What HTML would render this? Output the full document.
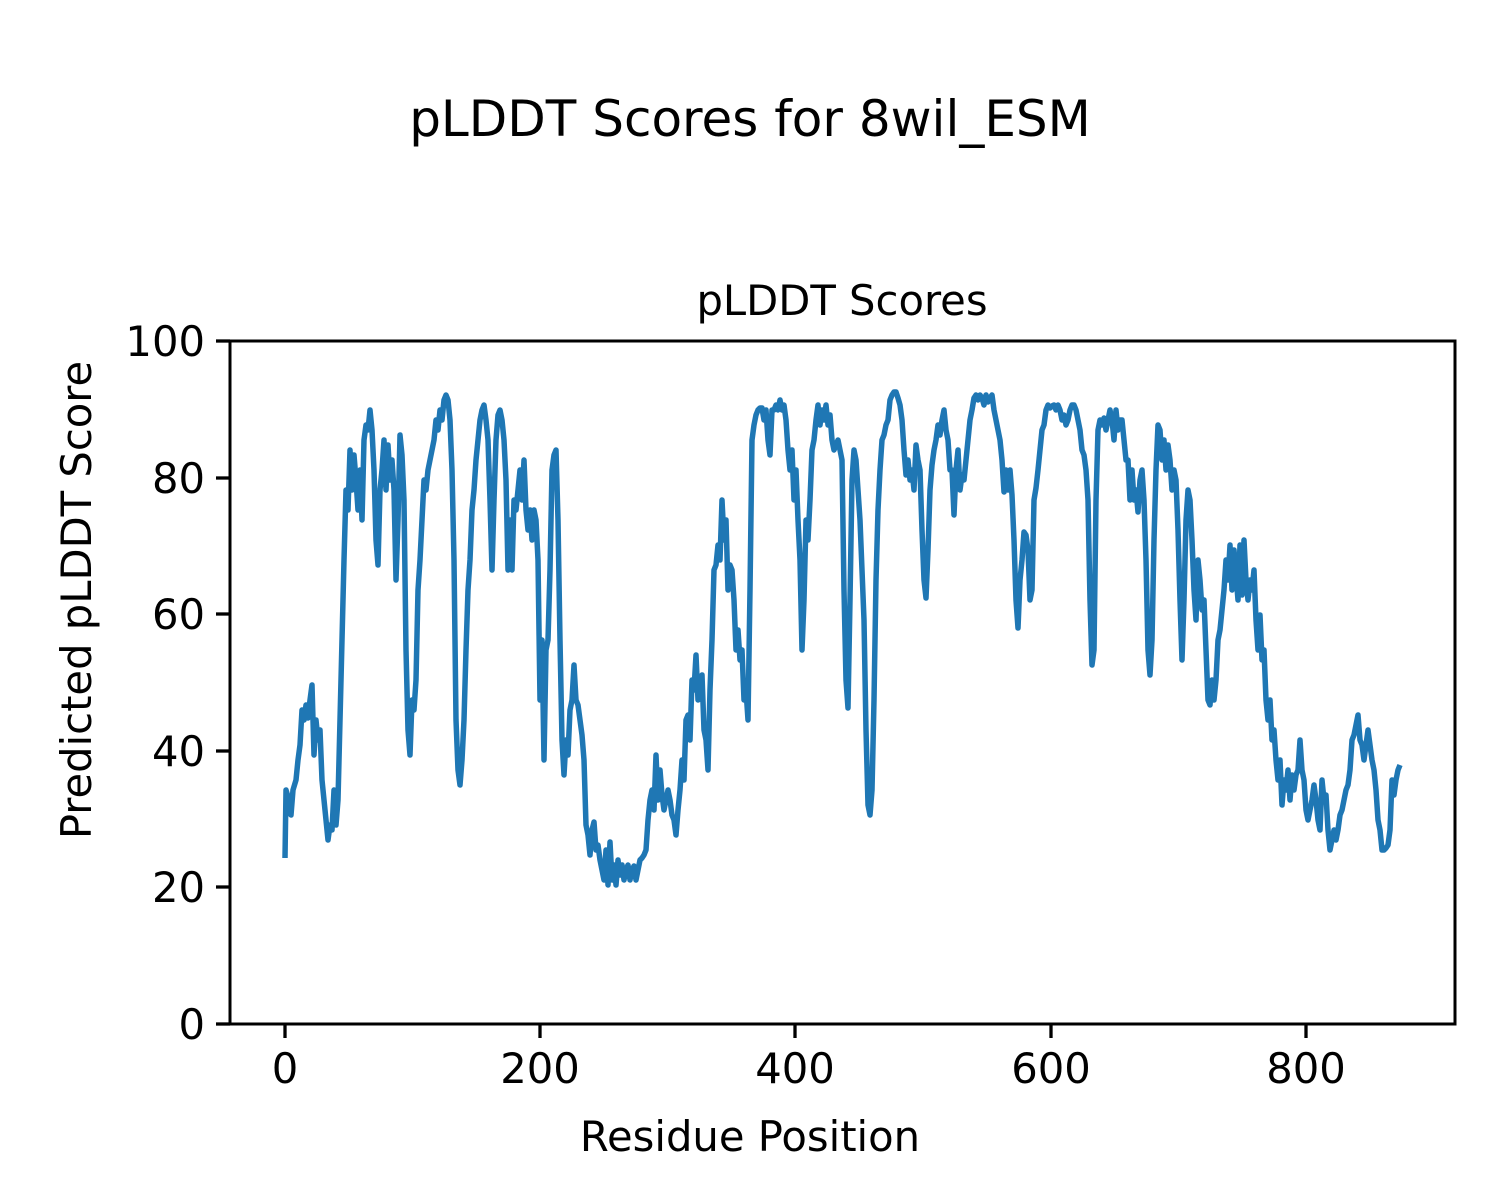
<!DOCTYPE html>
<html><head><style>body{margin:0;background:#fff}svg{display:block}</style></head><body>
<svg width="1500" height="1200" xmlns="http://www.w3.org/2000/svg" font-family="DejaVu Sans, Liberation Sans, sans-serif">
<rect width="1500" height="1200" fill="#fff"/>
<text x="750" y="136" font-size="50" text-anchor="middle">pLDDT Scores for 8wil_ESM</text>
<text x="842" y="315" font-size="41.7" text-anchor="middle">pLDDT Scores</text>
<text x="750" y="1151" font-size="41.7" text-anchor="middle">Residue Position</text>
<text transform="translate(91,600) rotate(-90)" font-size="41.7" text-anchor="middle">Predicted pLDDT Score</text>
<g stroke="#000" stroke-width="3.3">
<line x1="285" y1="1024" x2="285" y2="1038"/><line x1="540" y1="1024" x2="540" y2="1038"/><line x1="795" y1="1024" x2="795" y2="1038"/><line x1="1051" y1="1024" x2="1051" y2="1038"/><line x1="1306" y1="1024" x2="1306" y2="1038"/>
<line x1="216" y1="1024" x2="230" y2="1024"/><line x1="216" y1="887" x2="230" y2="887"/><line x1="216" y1="751" x2="230" y2="751"/><line x1="216" y1="614" x2="230" y2="614"/><line x1="216" y1="478" x2="230" y2="478"/><line x1="216" y1="341" x2="230" y2="341"/>
</g>
<g font-size="41.7" text-anchor="middle">
<text x="285" y="1083">0</text><text x="540" y="1083">200</text><text x="795" y="1083">400</text><text x="1051" y="1083">600</text><text x="1306" y="1083">800</text>
</g>
<g font-size="41.7" text-anchor="end">
<text x="205" y="1039">0</text><text x="205" y="902">20</text><text x="205" y="766">40</text><text x="205" y="629">60</text><text x="205" y="493">80</text><text x="205" y="356">100</text>
</g>
<polyline fill="none" stroke="#1f77b4" stroke-width="5.5" stroke-linejoin="round" points="285,858 286,790 289,800 291,815 293,790 296,780 298,760 300,745 302,710 304,720 306,705 308,718 310,700 312,685 314,755 316,720 318,740 320,730 322,780 324,800 326,820 328,840 330,825 332,830 334,790 336,825 338,800 340,720 342,640 344,560 346,490 348,510 350,450 352,490 354,455 356,480 358,510 360,470 362,520 364,440 366,425 368,430 370,410 372,430 374,470 376,540 378,565 380,490 382,470 384,440 386,490 388,445 390,480 392,460 394,490 396,580 398,520 400,435 402,455 404,500 406,650 408,730 410,755 412,700 414,710 416,680 418,590 420,560 422,520 424,480 426,490 428,470 430,460 432,450 434,440 436,420 438,430 440,410 442,420 444,400 446,395 448,400 450,420 452,470 454,560 456,720 458,770 460,785 462,760 464,720 466,650 468,590 470,560 472,510 474,490 476,460 478,440 480,420 482,410 484,405 486,420 488,440 490,500 492,570 494,500 496,440 498,415 500,410 502,420 504,440 506,480 508,570 510,520 512,570 514,500 516,510 518,490 520,470 522,500 524,460 526,510 528,530 530,510 532,540 534,510 536,520 538,560 540,700 542,640 544,760 546,650 548,640 550,570 552,470 554,455 556,450 558,520 560,640 562,740 564,775 566,740 568,755 570,710 572,700 574,665 576,700 578,705 580,720 582,735 584,760 586,825 588,835 590,855 592,830 594,822 596,850 598,845 600,860 602,870 604,880 606,850 608,885 610,842 612,880 614,865 616,885 618,860 620,875 622,865 624,880 626,870 628,865 630,880 632,870 634,866 636,880 638,870 640,860 642,858 644,855 646,850 648,820 650,800 652,790 654,810 656,755 658,800 660,770 662,795 664,810 666,800 668,790 670,800 672,815 674,820 676,835 678,810 680,790 682,760 684,780 686,720 688,715 690,740 692,680 694,690 696,655 698,700 700,690 702,675 704,730 706,740 708,770 710,690 712,640 714,570 716,565 718,545 720,560 722,500 724,540 726,520 728,590 730,565 732,570 734,600 736,650 738,630 740,660 742,650 744,700 746,690 748,720 750,590 752,440 754,425 756,415 758,410 760,408 762,408 764,420 766,410 768,440 770,455 772,410 774,410 776,405 778,410 780,400 782,410 784,405 786,420 788,450 790,470 792,450 794,500 796,470 798,520 800,560 802,650 804,600 806,520 808,540 810,500 812,450 814,440 816,420 818,405 820,425 822,410 824,420 826,405 828,425 830,415 832,440 834,450 836,445 838,440 840,450 842,460 844,590 846,680 848,708 850,600 852,480 854,450 856,460 858,490 860,520 862,570 864,620 866,730 868,805 870,815 872,790 874,700 876,580 878,510 880,470 882,440 884,435 886,425 888,420 890,400 892,395 894,392 896,392 898,398 900,405 902,420 904,450 906,475 908,460 910,480 912,470 914,490 916,445 918,460 920,470 922,530 924,580 926,598 928,550 930,490 932,465 934,450 936,440 938,425 940,435 942,420 944,410 946,430 948,440 950,470 952,470 954,515 956,470 958,450 960,490 962,475 964,480 966,460 968,440 970,420 972,410 974,398 976,395 978,400 980,395 982,398 984,405 986,395 988,402 990,398 992,395 994,410 996,420 998,430 1000,440 1002,460 1004,492 1006,470 1008,490 1010,470 1012,495 1014,540 1016,600 1018,628 1020,580 1022,560 1024,532 1026,535 1028,550 1030,600 1032,590 1034,500 1036,488 1038,470 1040,450 1042,430 1044,425 1046,410 1048,405 1050,408 1052,406 1054,405 1056,410 1058,405 1060,410 1062,420 1064,415 1066,425 1068,420 1070,410 1072,405 1074,405 1076,410 1078,420 1080,430 1082,450 1084,455 1086,470 1088,500 1090,600 1092,665 1094,650 1096,500 1098,430 1100,420 1102,425 1104,418 1106,430 1108,420 1110,410 1112,420 1114,440 1116,410 1118,430 1120,420 1122,420 1124,440 1126,460 1128,460 1130,500 1132,470 1134,500 1136,490 1138,512 1140,480 1142,470 1144,500 1146,560 1148,650 1150,675 1152,640 1154,540 1156,470 1158,425 1160,430 1162,460 1164,440 1166,470 1168,445 1170,460 1172,490 1174,470 1176,480 1178,530 1180,600 1182,660 1184,600 1186,520 1188,490 1190,500 1192,540 1194,590 1196,620 1198,560 1200,580 1202,610 1204,600 1206,650 1208,700 1210,705 1212,680 1214,700 1216,680 1218,640 1220,630 1222,610 1224,590 1226,560 1228,580 1230,545 1232,590 1234,550 1236,575 1238,600 1240,545 1242,595 1244,540 1246,580 1248,600 1250,580 1252,590 1254,570 1256,620 1258,650 1260,615 1262,660 1264,650 1266,700 1268,720 1270,700 1272,740 1274,730 1276,760 1278,780 1280,760 1282,805 1284,780 1286,790 1288,770 1290,800 1292,775 1294,790 1296,775 1298,770 1300,740 1302,770 1304,780 1306,810 1308,820 1310,810 1312,800 1314,785 1316,800 1318,820 1320,830 1322,780 1324,800 1326,795 1328,830 1330,850 1332,840 1334,830 1336,840 1338,830 1340,815 1342,810 1344,800 1346,790 1348,785 1350,770 1352,740 1354,735 1356,725 1358,715 1360,740 1362,745 1364,760 1366,745 1368,730 1370,745 1372,760 1374,770 1376,790 1378,820 1380,830 1382,850 1384,850 1386,848 1388,845 1390,830 1392,780 1394,795 1396,780 1398,770 1400,765"/>
<rect x="230" y="341" width="1225" height="683" fill="none" stroke="#000" stroke-width="3"/>
</svg>
</body></html>
